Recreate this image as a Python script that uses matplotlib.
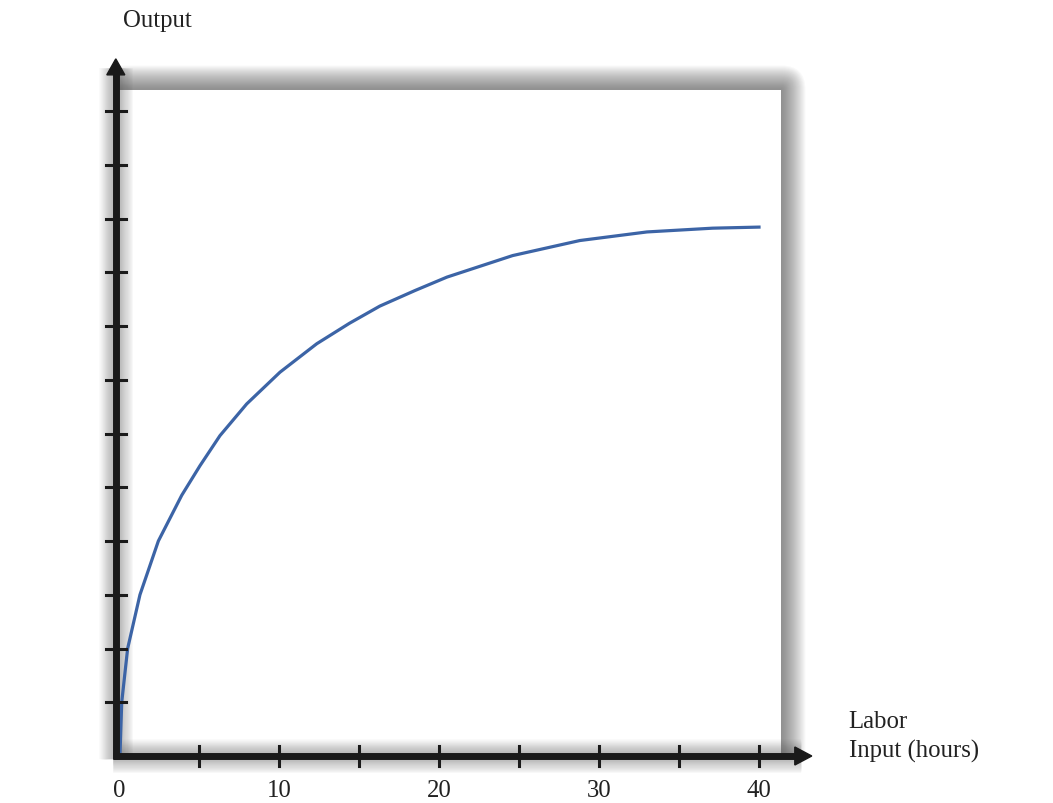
import numpy as np
import matplotlib
matplotlib.use('Agg')
import matplotlib.pyplot as plt
from matplotlib.patches import Rectangle, Polygon, FancyBboxPatch

# curve (labor hours -> output)
hours = [0.06, 0.17, 0.54, 1.31, 2.46, 3.92, 5.06, 6.31, 7.98, 10.06, 12.36,
         14.4, 16.3, 18.5, 20.5, 24.6, 28.8, 33.0, 37.1, 40.0]
output = [0.0, 1.0, 2.0, 3.0, 4.0, 4.85, 5.40, 5.96, 6.55, 7.14, 7.67,
          8.05, 8.37, 8.66, 8.91, 9.31, 9.59, 9.75, 9.82, 9.84]
x_ticks = [5, 10, 15, 20, 25, 30, 35, 40]
x_labels = [0, 10, 20, 30, 40]
y_ticks = list(range(1, 13))

W, H = 1053, 804
fig = plt.figure(figsize=(W / 100, H / 100), dpi=100)
ax = fig.add_axes([119 / W, 47 / H, 43 * 16 / W, 13.2 * 53.75 / H])
ax.set_xlim(0, 43)
ax.set_ylim(0, 13.2)
ax.axis('off')

px = 1 / 16        # data units per pixel, x
py = 1 / 53.75     # data units per pixel, y
serif = 'Liberation Serif'
ink = '#1a1a1a'

# white panel with soft glow (rounded corners like a blur)
bx, by = 41.4, 12.4
for k in range(24, 0, -1):
    d = k * 1.0 * px
    ax.add_patch(FancyBboxPatch((0, 0), bx, by,
                                boxstyle=f'round,pad={d},rounding_size={d}',
                                mutation_aspect=py / px,
                                facecolor='#404040', alpha=0.03, lw=0, zorder=1))
ax.add_patch(Rectangle((0, 0), bx, by, facecolor='white', lw=0, zorder=2))

# axis glow
yax = -0.2
for k in range(12, 0, -1):
    lw = 5 + k * 1.6
    ax.plot([-0.4, 42.6], [0, 0], color='#505050', alpha=0.035, lw=lw,
            solid_capstyle='butt', zorder=3, clip_on=False)
    ax.plot([yax, yax], [-0.06, 12.8], color='#505050', alpha=0.035, lw=lw,
            solid_capstyle='butt', zorder=3, clip_on=False)

# axes with arrows
ax.plot([-0.4, 42.4], [0, 0], color=ink, lw=5, solid_capstyle='butt',
        zorder=5, clip_on=False)
ax.plot([yax, yax], [-0.06, 12.7], color=ink, lw=5, solid_capstyle='butt',
        zorder=5, clip_on=False)
ax.add_patch(Polygon([(43.3, 0), (43.3 - 17 * px, 9 * py), (43.3 - 17 * px, -9 * py)],
                     closed=True, color=ink, zorder=5, clip_on=False))
ax.add_patch(Polygon([(yax, 12.97), (yax - 9 * px, 12.97 - 16 * py),
                      (yax + 9 * px, 12.97 - 16 * py)],
                     closed=True, color=ink, zorder=5, clip_on=False))

# ticks
for t in x_ticks:
    ax.plot([t, t], [-10 * py, 10 * py], color=ink, lw=2.2, zorder=5,
            clip_on=False)
for t in y_ticks:
    ax.plot([yax - 10 * px, yax + 10 * px], [t, t], color=ink, lw=2.2,
            zorder=5, clip_on=False)

for t in x_labels:
    ax.text(t, -0.64, str(t), ha='center', va='center', fontsize=17.8,
            family=serif, color='#222222')

# production curve
ax.plot(hours, output, color='#3c64a6', lw=2.3, zorder=4,
        solid_joinstyle='round')

ax.text(0.25, 13.7, 'Output', ha='left', va='center', fontsize=17.8,
        family=serif, color='#222222')
ax.text(45.6, 0.66, 'Labor', ha='left', va='center', fontsize=17.8,
        family=serif, color='#222222')
ax.text(45.6, 0.1, 'Input (hours)', ha='left', va='center', fontsize=17.8,
        family=serif, color='#222222')

fig.savefig('out.png', dpi=100, facecolor='white')
